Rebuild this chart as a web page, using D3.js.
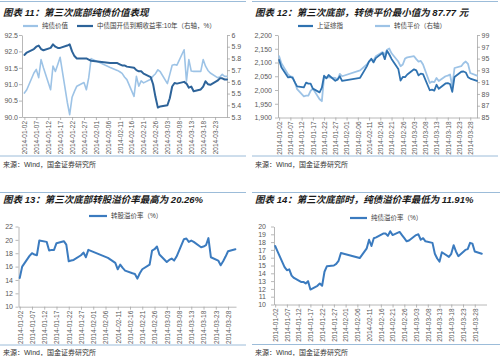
<!DOCTYPE html>
<html><head><meta charset="utf-8">
<script src="https://cdn.jsdelivr.net/npm/d3@7"></script>
<style>
html,body{margin:0;padding:0;background:#fff;}
svg{display:block;}
text{font-family:"Liberation Sans","Noto Sans CJK SC",sans-serif;}
</style></head><body>
<svg id="c" width="500" height="356"></svg>
<script>
// ---------- DATA ----------
const tradeDates = [
"2014-01-02","2014-01-03","2014-01-06","2014-01-07","2014-01-08","2014-01-09","2014-01-10",
"2014-01-13","2014-01-14","2014-01-15","2014-01-16","2014-01-17",
"2014-01-20","2014-01-21","2014-01-22","2014-01-23","2014-01-24",
"2014-01-27","2014-01-28","2014-01-29","2014-01-30",
"2014-02-07",
"2014-02-10","2014-02-11","2014-02-12","2014-02-13","2014-02-14",
"2014-02-17","2014-02-18","2014-02-19","2014-02-20","2014-02-21",
"2014-02-24","2014-02-25","2014-02-26","2014-02-27","2014-02-28",
"2014-03-03","2014-03-04","2014-03-05","2014-03-06","2014-03-07",
"2014-03-10","2014-03-11","2014-03-12","2014-03-13","2014-03-14",
"2014-03-17","2014-03-18","2014-03-19","2014-03-20","2014-03-21",
"2014-03-24","2014-03-25","2014-03-26","2014-03-27","2014-03-28",
"2014-03-31"];

const dateLabels = ["2014-01-02","2014-01-07","2014-01-12","2014-01-17","2014-01-22","2014-01-27",
"2014-02-01","2014-02-06","2014-02-11","2014-02-16","2014-02-21","2014-02-26",
"2014-03-03","2014-03-08","2014-03-13","2014-03-18","2014-03-23","2014-03-28"];
const dateLabels11 = dateLabels.slice(0, 17);

// Chart 11: pure bond value (left) and CDB 10Y yield (right, %)
const bondValue = [90.73,90.83,91.34,91.45,91.20,91.75,91.50, 90.83,91.55,91.39,91.60,91.82,
 90.45,90.07,90.60,90.78,90.94, 91.05,90.83,91.20,91.78, 91.51,
 91.42,91.38,91.33,91.22,91.14, 90.63,91.24,90.94,91.10,91.04,
 91.15,91.25,91.32,91.44,91.38, 91.02,91.30,91.58,91.60,91.58,
 92.05,91.09,91.75,91.40,91.39, 91.39,91.75,91.55,91.42,91.34,
 91.20,91.22,91.30,91.24,91.24];
const cdbYield = [5.83,5.85,5.88,5.90,5.91,5.88,5.87, 5.89,5.92,5.90,5.89,5.89,
 5.91,5.92,5.86,5.82,5.80, 5.80,5.80,5.79,5.78, 5.76,
 5.76,5.75,5.74,5.74,5.73, 5.72,5.70,5.69,5.69,5.67,
 5.64,5.58,5.47,5.38,5.39, 5.40,5.46,5.56,5.59,5.585,
 5.60,5.585,5.55,5.56,5.52, 5.535,5.56,5.605,5.58,5.575,
 5.61,5.63,5.63,5.62,5.62];
const ticks11L = [90.0,90.5,91.0,91.5,92.0,92.5];
const ticks11R = [5.3,5.4,5.5,5.6,5.7,5.8,5.9,6.0];

// Chart 12: SSE composite (left) and CB parity (right)
const shIndex = [2109.4,2083.1,2045.7,2047.3,2044.3,2027.6,2013.3, 2009.6,2026.8,2023.4,2023.3,2005.0,
 1991.3,2008.3,2051.8,2042.2,2054.4, 2033.3,2038.5,2049.9,2033.1, 2044.5,
 2086.0,2103.7,2113.7,2100.3,2115.9, 2135.1,2112.1,2142.6,2129.0,2113.1,
 2076.7,2034.2,2047.4,2046.6,2056.3, 2075.2,2071.5,2053.1,2059.6,2057.9,
 1999.1,2001.2,1997.7,2019.1,2004.3, 2023.7,2025.2,2021.7,1993.5,2047.6,
 2066.3,2067.3,2063.7,2046.6,2041.7, 2033.3];
const cbParity = [95.4,94.2,92.3,92.0,91.9,91.0,89.8, 88.6,88.7,88.7,89.5,89.9,
 88.1,87.77,91.9,91.8,91.8, 91.7,91.4,92.4,92.0, 93.0,
 94.0,94.5,94.8,94.7,95.4, 96.1,95.7,96.5,96.7,95.9,
 94.5,93.7,94.0,95.0,95.2, 95.4,94.9,94.5,94.6,94.0,
 90.85,91.1,91.0,91.7,91.2, 92.0,92.1,92.3,90.3,93.4,
 93.7,94.2,94.5,94.1,92.55, 92.1];
const ticks12L = [1900,1950,2000,2050,2100,2150,2200];
const ticks12R = [85,87,89,91,93,95,97,99];

// Chart 13: conversion premium (%)
const convPremium = [14.3,16.0,17.6,18.0,17.8,17.7,19.9, 19.7,18.4,18.5,18.5,19.5,
 19.8,19.3,16.8,16.9,17.0, 17.7,18.1,17.4,18.5, 17.3,
 16.55,15.6,16.3,15.8,15.4, 15.0,14.9,14.2,15.0,15.6,
 16.3,18.4,18.6,19.0,17.8, 16.7,17.0,17.2,16.9,17.5,
 20.1,20.2,19.7,19.9,19.7, 18.9,19.0,19.2,20.26,17.4,
 16.9,16.2,16.8,17.5,18.3, 18.6];
const ticks13 = [10,12,14,16,18,20,22];

// Chart 14: pure bond premium (%)
const bondPremium = [17.5,16.8,14.8,14.4,14.5,13.7,13.4, 12.9,12.9,12.7,13.0,11.91,
 12.4,12.7,12.4,14.2,14.9, 15.0,15.2,15.6,16.6, 15.95,
 17.2,18.3,17.5,18.5,18.6, 19.1,19.1,18.8,19.4,18.9,
 19.3,18.9,18.5,18.1,18.2, 18.9,19.0,18.3,18.5,18.1,
 17.9,16.5,15.9,15.5,16.7, 16.1,16.5,17.6,16.8,16.2,
 17.0,17.1,17.9,17.8,16.8, 16.5];
const ticks14 = [10,11,12,13,14,15,16,17,18,19,20];

const titles = ["图表 11：第三次底部纯债价值表现",
 "图表 12：第三次底部，转债平价最小值为 87.77 元",
 "图表 13：第三次底部转股溢价率最高为 20.26%",
 "图表 14：第三次底部时，纯债溢价率最低为 11.91%"];
const sourceText = "来源：Wind，国金证券研究所";

// ---------- DRAW ----------
const svg = d3.select("#c");
svg.append("rect").attr("width",500).attr("height",356).attr("fill","#fff");
const parse = d3.utcParse("%Y-%m-%dT%H");
const pd = s => s.length > 10 ? parse(s) : parse(s + "T00");
const fmtDate = d3.utcFormat("%Y-%m-%d");
const AX = "#a6a6a6", TXT = "#595959", SEP = "#9cbcd9";

function styleAxis(sel, fs){
  sel.select(".domain").attr("stroke", AX).attr("stroke-width", 0.8);
  sel.selectAll(".tick line").attr("stroke", AX).attr("stroke-width", 0.8);
  sel.selectAll(".tick text").attr("fill", TXT).attr("font-size", fs)
     .attr("font-family", '"Liberation Sans",sans-serif');
}

function panel(c){
  const g = svg.append("g");
  g.append("line").attr("x1", c.px0).attr("x2", c.px1).attr("y1", c.topLine).attr("y2", c.topLine)
   .attr("stroke", SEP).attr("stroke-width", 1);
  g.append("text").attr("x", c.px0 + 3).attr("y", c.titleY).text(c.title)
   .attr("font-size", 9.5).attr("font-weight", "bold").attr("font-style", "italic").attr("fill", "#1a1a1a");
  g.append("line").attr("x1", c.px0).attr("x2", c.px1).attr("y1", c.botLine).attr("y2", c.botLine)
   .attr("stroke", SEP).attr("stroke-width", 1);
  g.append("text").attr("x", c.px0 + 3).attr("y", c.srcY).text(sourceText)
   .attr("font-size", 7).attr("fill", "#333");

  const x = d3.scaleUtc().domain(c.xDom.map(pd)).range(c.xRange);
  const yL = d3.scaleLinear().domain(c.domL).range([c.yb, c.yt]);
  const yR = c.domR ? d3.scaleLinear().domain(c.domR).range([c.yb, c.yt]) : null;

  // x axis
  const xa = g.append("g").attr("transform", `translate(0,${c.yb})`)
    .call(d3.axisBottom(x).tickValues(c.xLabels.map(pd)).tickFormat(fmtDate).tickSize(3).tickSizeOuter(0));
  styleAxis(xa, 6.5);
  xa.selectAll(".tick text").attr("transform", "rotate(-90)").attr("text-anchor", "end")
    .attr("x", -4).attr("y", 0).attr("dy", "0.35em");

  const ya = g.append("g").attr("transform", `translate(${c.xRange[0]},0)`)
    .call(d3.axisLeft(yL).tickValues(c.ticksL).tickFormat(c.fmtL).tickSize(3).tickSizeOuter(0).tickPadding(c.padL));
  styleAxis(ya, 7);
  if (yR) {
    const yr = g.append("g").attr("transform", `translate(${c.xRange[1]},0)`)
      .call(d3.axisRight(yR).tickValues(c.ticksR).tickFormat(c.fmtR).tickSize(3).tickSizeOuter(0).tickPadding(1.5));
    styleAxis(yr, 7);
  }

  c.series.forEach(s => {
    const pts = s.values.map((v, i) => ({d: pd(tradeDates[i]), v}));
    const y = s.axis === "R" ? yR : yL;
    g.append("path").datum(pts)
     .attr("d", d3.line().x(p => x(p.d)).y(p => y(p.v)))
     .attr("fill", "none").attr("stroke", s.color).attr("stroke-width", s.w)
     .attr("stroke-linejoin", "round").attr("stroke-linecap", "round");
  });

  c.legend.forEach(l => {
    g.append("line").attr("x1", l.x).attr("x2", l.x + l.sw).attr("y1", c.legendY).attr("y2", c.legendY)
     .attr("stroke", l.color).attr("stroke-width", 2.2);
    g.append("text").attr("x", l.x + l.sw + 4).attr("y", c.legendY).attr("dy", "0.35em")
     .text(l.text).attr("font-size", 6.5).attr("fill", "#404040");
  });
}

const DARK11 = "#2d6399", LIGHT = "#9dc3e6", DARK12 = "#2f72b0", MID = "#3b7bbf";

panel({
  px0: 0, px1: 246, topLine: 1.5, titleY: 15.5, botLine: 156, srcY: 166.5,
  xDom: ["2014-01-01", "2014-03-28"], xRange: [22, 227], yt: 35, yb: 117,
  xLabels: dateLabels11, domL: [90, 92.5], ticksL: ticks11L, fmtL: d3.format(".1f"), padL: 1,
  domR: [5.3, 6.0], ticksR: ticks11R, fmtR: d3.format("~g"),
  series: [{values: bondValue, axis: "L", color: LIGHT, w: 1.6},
           {values: cdbYield, axis: "R", color: DARK11, w: 2}],
  legendY: 26,
  legend: [{x: 23, sw: 15, color: LIGHT, text: "纯债价值"},
           {x: 77, sw: 16, color: DARK11, text: "中债国开债到期收益率:10年（右轴，%）"}],
  title: titles[0]
});

panel({
  px0: 252, px1: 498, topLine: 1.5, titleY: 15.5, botLine: 156, srcY: 166.5,
  xDom: ["2014-01-01T12", "2014-03-31"], xRange: [278, 477], yt: 35, yb: 117.5,
  xLabels: dateLabels, domL: [1900, 2200], ticksL: ticks12L, fmtL: d3.format(","), padL: 3,
  domR: [85, 99], ticksR: ticks12R, fmtR: d3.format("d"),
  series: [{values: cbParity, axis: "R", color: LIGHT, w: 1.8},
           {values: shIndex, axis: "L", color: DARK12, w: 1.8}],
  legendY: 26,
  legend: [{x: 298, sw: 15, color: DARK12, text: "上证综指"},
           {x: 375, sw: 15, color: LIGHT, text: "转债平价（右轴）"}],
  title: titles[1]
});

panel({
  px0: 0, px1: 246, topLine: 192.5, titleY: 203, botLine: 345, srcY: 354.5,
  xDom: ["2014-01-01T12", "2014-03-31T06"], xRange: [18.5, 236], yt: 226.5, yb: 306.7,
  xLabels: dateLabels, domL: [10, 22], ticksL: ticks13, fmtL: d3.format("d"), padL: 2.5,
  series: [{values: convPremium, axis: "L", color: MID, w: 2}],
  legendY: 216,
  legend: [{x: 89, sw: 18, color: MID, text: "转股溢价率（%）"}],
  title: titles[2]
});

panel({
  px0: 252, px1: 500, topLine: 192.5, titleY: 203, botLine: 344.5, srcY: 354.5,
  xDom: ["2014-01-01T12", "2014-04-02"], xRange: [274, 486.5], yt: 226.5, yb: 304.5,
  xLabels: dateLabels, domL: [10, 20], ticksL: ticks14, fmtL: d3.format("d"), padL: 5,
  series: [{values: bondPremium, axis: "L", color: MID, w: 2}],
  legendY: 218,
  legend: [{x: 350, sw: 17, color: MID, text: "纯债溢价率（%）"}],
  title: titles[3]
});
</script>
</body></html>
